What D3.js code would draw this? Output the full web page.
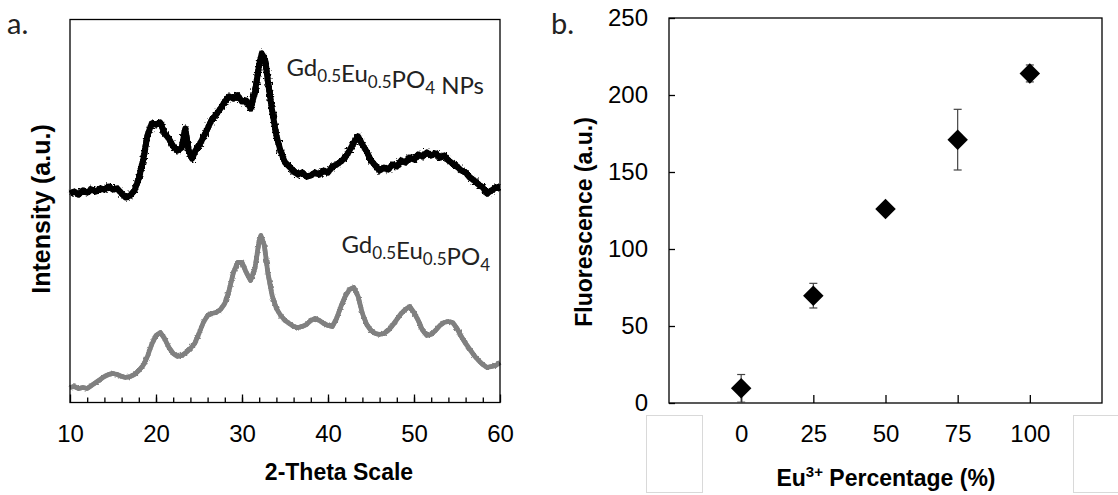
<!DOCTYPE html>
<html>
<head>
<meta charset="utf-8">
<script src="https://cdn.jsdelivr.net/npm/d3@7"></script>
<style>
  body { margin: 0; background: #fff; }
  svg { display: block; }
</style>
</head>
<body>
<div id="chart"></div>
<script>
// Panel a: XRD patterns, [2-theta, intensity (a.u.)]
const npsPattern = [
  [10, 209], [10.5, 211], [11, 208], [11.5, 212], [12, 210], [12.5, 213], [13, 211], [13.5, 214],
  [14, 213], [14.5, 216], [15, 213], [15.5, 214], [16, 209], [16.5, 205], [17, 207], [17.5, 212],
  [18, 224], [18.5, 242], [19, 267], [19.5, 279], [20, 278], [20.5, 280], [21, 269], [21.5, 264],
  [22, 256], [22.5, 252], [23, 255], [23.4, 274], [23.8, 252], [24.2, 244], [24.6, 252], [25, 257],
  [25.5, 265], [26, 274], [26.5, 283], [27, 288], [27.5, 294], [28, 301], [28.5, 306], [29, 304],
  [29.5, 307], [30, 301], [30.5, 302], [31, 294], [31.5, 310], [32, 338], [32.3, 349], [32.7, 342],
  [33, 322], [33.5, 292], [34, 267], [34.5, 251], [35, 240], [35.5, 236], [36, 231], [36.5, 228],
  [37, 230], [37.5, 226], [38, 227], [38.5, 230], [39, 228], [39.5, 232], [40, 230], [40.5, 236],
  [41, 238], [41.5, 241], [42, 245], [42.5, 252], [43, 260], [43.5, 266], [44, 258], [44.5, 251],
  [45, 242], [45.5, 237], [46, 232], [46.5, 235], [47, 233], [47.5, 238], [48, 236], [48.5, 242],
  [49, 240], [49.5, 245], [50, 243], [50.5, 248], [51, 246], [51.5, 250], [52, 247], [52.5, 249],
  [53, 245], [53.5, 247], [54, 242], [54.5, 239], [55, 236], [55.5, 232], [56, 230], [56.5, 225],
  [57, 222], [57.5, 218], [58, 215], [58.5, 209], [59, 212], [59.5, 215], [60, 215]
];
const bulkPattern = [
  [10, 15], [10.5, 16], [11, 14], [11.5, 15], [12, 14], [12.5, 17], [13, 20], [13.5, 23],
  [14, 26], [14.5, 28], [15, 29], [15.5, 28], [16, 26], [16.5, 25], [17, 26], [17.5, 28],
  [18, 32], [18.5, 37], [19, 46], [19.5, 58], [20, 67], [20.5, 70], [21, 64], [21.5, 55],
  [22, 49], [22.5, 46], [23, 47], [23.5, 50], [24, 54], [24.5, 59], [25, 69], [25.5, 80],
  [26, 87], [26.5, 89], [27, 90], [27.5, 93], [28, 99], [28.5, 112], [29, 130], [29.5, 140],
  [30, 140], [30.5, 130], [31, 122], [31.5, 134], [32, 162], [32.2, 167], [32.6, 157], [33, 130],
  [33.5, 107], [34, 94], [34.5, 87], [35, 82], [35.5, 79], [36, 76], [36.5, 75], [37, 76],
  [37.5, 78], [38, 82], [38.5, 84], [39, 82], [39.5, 79], [40, 77], [40.5, 76], [41, 84],
  [41.5, 96], [42, 106], [42.5, 113], [43, 115], [43.5, 106], [44, 89], [44.5, 78], [45, 72],
  [45.5, 69], [46, 68], [46.5, 69], [47, 72], [47.5, 77], [48, 83], [48.5, 89], [49, 93],
  [49.5, 96], [50, 90], [50.5, 82], [51, 72], [51.5, 67], [52, 68], [52.5, 72], [53, 77],
  [53.5, 80], [54, 81], [54.5, 80], [55, 74], [55.5, 66], [56, 59], [56.5, 53], [57, 47],
  [57.5, 42], [58, 38], [58.5, 35], [59, 36], [59.5, 37], [60, 40]
];
const thetaTicks = [10, 20, 30, 40, 50, 60];

// Panel b: fluorescence vs Eu3+ percentage
const euPercent = [0, 25, 50, 75, 100];
const fluorescence = [9.5, 69.7, 126, 171, 214];
const fluorescenceErr = [9, 8, 2, 19.7, 5.5];
const percentTicks = [0, 25, 50, 75, 100];
const fluorTicks = [0, 50, 100, 150, 200, 250];

const width = 1118;
const height = 495;
const tickFont = "'Liberation Sans', Arial, sans-serif";
const labelFont = "Lato, 'Open Sans', sans-serif";

const svg = d3
  .select("#chart")
  .append("svg")
  .attr("width", width)
  .attr("height", height);

svg.append("rect").attr("width", width).attr("height", height).attr("fill", "#fff");

// rough texture for the measured patterns (styling only, data stays as read)
const defs = svg.append("defs");
function roughFilter(id, freq, scale) {
  const f = defs
    .append("filter")
    .attr("id", id)
    .attr("filterUnits", "userSpaceOnUse")
    .attr("x", 0)
    .attr("y", 0)
    .attr("width", width)
    .attr("height", height);
  f.append("feTurbulence")
    .attr("type", "fractalNoise")
    .attr("baseFrequency", freq)
    .attr("numOctaves", 2)
    .attr("seed", 3)
    .attr("result", "noise");
  f.append("feDisplacementMap")
    .attr("in", "SourceGraphic")
    .attr("in2", "noise")
    .attr("scale", scale)
    .attr("xChannelSelector", "R")
    .attr("yChannelSelector", "G");
}
roughFilter("roughBlack", 0.5, 7);
roughFilter("roughGray", 0.35, 3.5);

// ---------- panel a ----------
const xA = d3.scaleLinear().domain([10, 60]).range([70, 500]);
const yA = d3.scaleLinear().domain([0, 383]).range([402.5, 19.5]);

const line = d3
  .line()
  .x((d) => xA(d[0]))
  .y((d) => yA(d[1]));

// each pattern: a solid core plus a roughened copy for the noisy edge
function drawPattern(data, color, core, rough, filterId) {
  svg
    .append("path")
    .datum(data)
    .attr("d", line)
    .attr("fill", "none")
    .attr("stroke", color)
    .attr("stroke-width", core)
    .attr("stroke-linejoin", "round");
  svg
    .append("path")
    .datum(data)
    .attr("d", line)
    .attr("fill", "none")
    .attr("stroke", color)
    .attr("stroke-width", rough)
    .attr("stroke-linejoin", "round")
    .attr("filter", `url(#${filterId})`);
}
drawPattern(bulkPattern, "#808080", 4.8, 4.5, "roughGray");
drawPattern(npsPattern, "#000", 6, 6, "roughBlack");

// minor ticks every 2 degrees
svg
  .append("g")
  .attr("transform", "translate(0,402.5)")
  .call(d3.axisBottom(xA).tickValues(d3.range(12, 60, 2)).tickSizeInner(-5).tickSizeOuter(0).tickFormat(""))
  .call((g) => g.select(".domain").remove())
  .call((g) => g.selectAll("line").attr("stroke-width", 1.3));

const axisA = svg
  .append("g")
  .attr("transform", "translate(0,402.5)")
  .call(d3.axisBottom(xA).tickValues(thetaTicks).tickSizeInner(-8).tickSizeOuter(0).tickPadding(22));
axisA.select(".domain").remove();
axisA.selectAll("line").attr("stroke-width", 1.3);
axisA.selectAll("text").attr("font-family", tickFont).attr("font-size", "24px").attr("fill", "#000");

svg
  .append("rect")
  .attr("x", 70)
  .attr("y", 19.5)
  .attr("width", 430)
  .attr("height", 383)
  .attr("fill", "none")
  .attr("stroke", "#000")
  .attr("stroke-width", 1.3);

// curve labels with subscripts
function formula(x, y, parts) {
  const t = svg
    .append("text")
    .attr("x", x)
    .attr("y", y)
    .attr("text-anchor", "end")
    .attr("font-family", labelFont)
    .attr("font-size", "24px")
    .attr("fill", "#222");
  parts.forEach(([s, sub]) => {
    t.append("tspan")
      .attr("font-size", sub ? "17px" : "24px")
      .attr("dy", sub ? 6 : 0)
      .text(s);
    if (sub) t.append("tspan").attr("dy", -6).text("");
  });
}
formula(484, 76, [["Gd"], ["0.5", 1], ["Eu"], ["0.5", 1], ["PO"], ["4", 1], ["\u00a0NPs"]]);
formula(490, 253, [["Gd"], ["0.5", 1], ["Eu"], ["0.5", 1], ["PO"], ["4", 1]]);

svg
  .append("text")
  .attr("x", 339)
  .attr("y", 480)
  .attr("text-anchor", "middle")
  .attr("font-family", tickFont)
  .attr("font-weight", "bold")
  .attr("font-size", "23px")
  .text("2-Theta Scale");

svg
  .append("text")
  .attr("transform", "translate(50,209) rotate(-90)")
  .attr("text-anchor", "middle")
  .attr("font-family", tickFont)
  .attr("font-weight", "bold")
  .attr("font-size", "25px")
  .text("Intensity (a.u.)");

svg
  .append("text")
  .attr("x", 7)
  .attr("y", 34)
  .attr("font-family", labelFont)
  .attr("font-size", "29px")
  .attr("fill", "#222")
  .text("a.");

// ---------- panel b ----------
const xB = d3.scaleLinear().domain([-25, 125]).range([669, 1102]);
const yB = d3.scaleLinear().domain([0, 250]).range([403, 18]);

// the two empty boxes under the axis
[[646, 56], [1073, 60]].forEach(([bx, bw]) => {
  svg
    .append("rect")
    .attr("x", bx + 0.5)
    .attr("y", 415.5)
    .attr("width", bw)
    .attr("height", 77)
    .attr("fill", "#fff")
    .attr("stroke", "#d9d9d9")
    .attr("stroke-width", 1);
});

const axisBx = svg
  .append("g")
  .attr("transform", "translate(0,403)")
  .call(d3.axisBottom(xB).tickValues(percentTicks).tickSizeInner(-8).tickSizeOuter(0).tickPadding(22));
axisBx.select(".domain").remove();
axisBx.selectAll("line").attr("stroke-width", 1.3);
axisBx.selectAll("text").attr("font-family", tickFont).attr("font-size", "24px").attr("fill", "#000");

const axisBy = svg
  .append("g")
  .attr("transform", "translate(669,0)")
  .call(d3.axisLeft(yB).tickValues(fluorTicks).tickSizeInner(-6).tickSizeOuter(0).tickPadding(21));
axisBy.select(".domain").remove();
axisBy.selectAll("line").attr("stroke-width", 1.3);
axisBy.selectAll("text").attr("font-family", tickFont).attr("font-size", "24px").attr("fill", "#000");

svg
  .append("rect")
  .attr("x", 669)
  .attr("y", 18)
  .attr("width", 433)
  .attr("height", 385)
  .attr("fill", "none")
  .attr("stroke", "#000")
  .attr("stroke-width", 1.3);

const points = euPercent.map((p, i) => ({ p, v: fluorescence[i], e: fluorescenceErr[i] }));

// error bars
const err = svg.append("g").attr("stroke", "#444").attr("stroke-width", 1.2);
points.forEach((d) => {
  const cx = xB(d.p);
  err.append("line").attr("x1", cx).attr("x2", cx).attr("y1", yB(d.v - d.e)).attr("y2", yB(d.v + d.e));
  [d.v - d.e, d.v + d.e].forEach((v) => {
    err.append("line").attr("x1", cx - 4).attr("x2", cx + 4).attr("y1", yB(v)).attr("y2", yB(v));
  });
});

// diamond markers
svg
  .append("g")
  .selectAll("path")
  .data(points)
  .join("path")
  .attr("d", d3.symbol().type(d3.symbolSquare).size(210))
  .attr("transform", (d) => `translate(${xB(d.p)},${yB(d.v)}) rotate(45)`)
  .attr("fill", "#000");

const xTitle = svg
  .append("text")
  .attr("x", 886)
  .attr("y", 486)
  .attr("text-anchor", "middle")
  .attr("font-family", tickFont)
  .attr("font-weight", "bold")
  .attr("font-size", "23px");
xTitle.append("tspan").text("Eu");
xTitle.append("tspan").attr("font-size", "15px").attr("dy", -9).text("3+");
xTitle.append("tspan").attr("dy", 9).text(" Percentage (%)");

svg
  .append("text")
  .attr("transform", "translate(592,222) rotate(-90)")
  .attr("text-anchor", "middle")
  .attr("font-family", tickFont)
  .attr("font-weight", "bold")
  .attr("font-size", "23px")
  .text("Fluorescence (a.u.)");

svg
  .append("text")
  .attr("x", 551)
  .attr("y", 34)
  .attr("font-family", labelFont)
  .attr("font-size", "29px")
  .attr("fill", "#222")
  .text("b.");
</script>
</body>
</html>
